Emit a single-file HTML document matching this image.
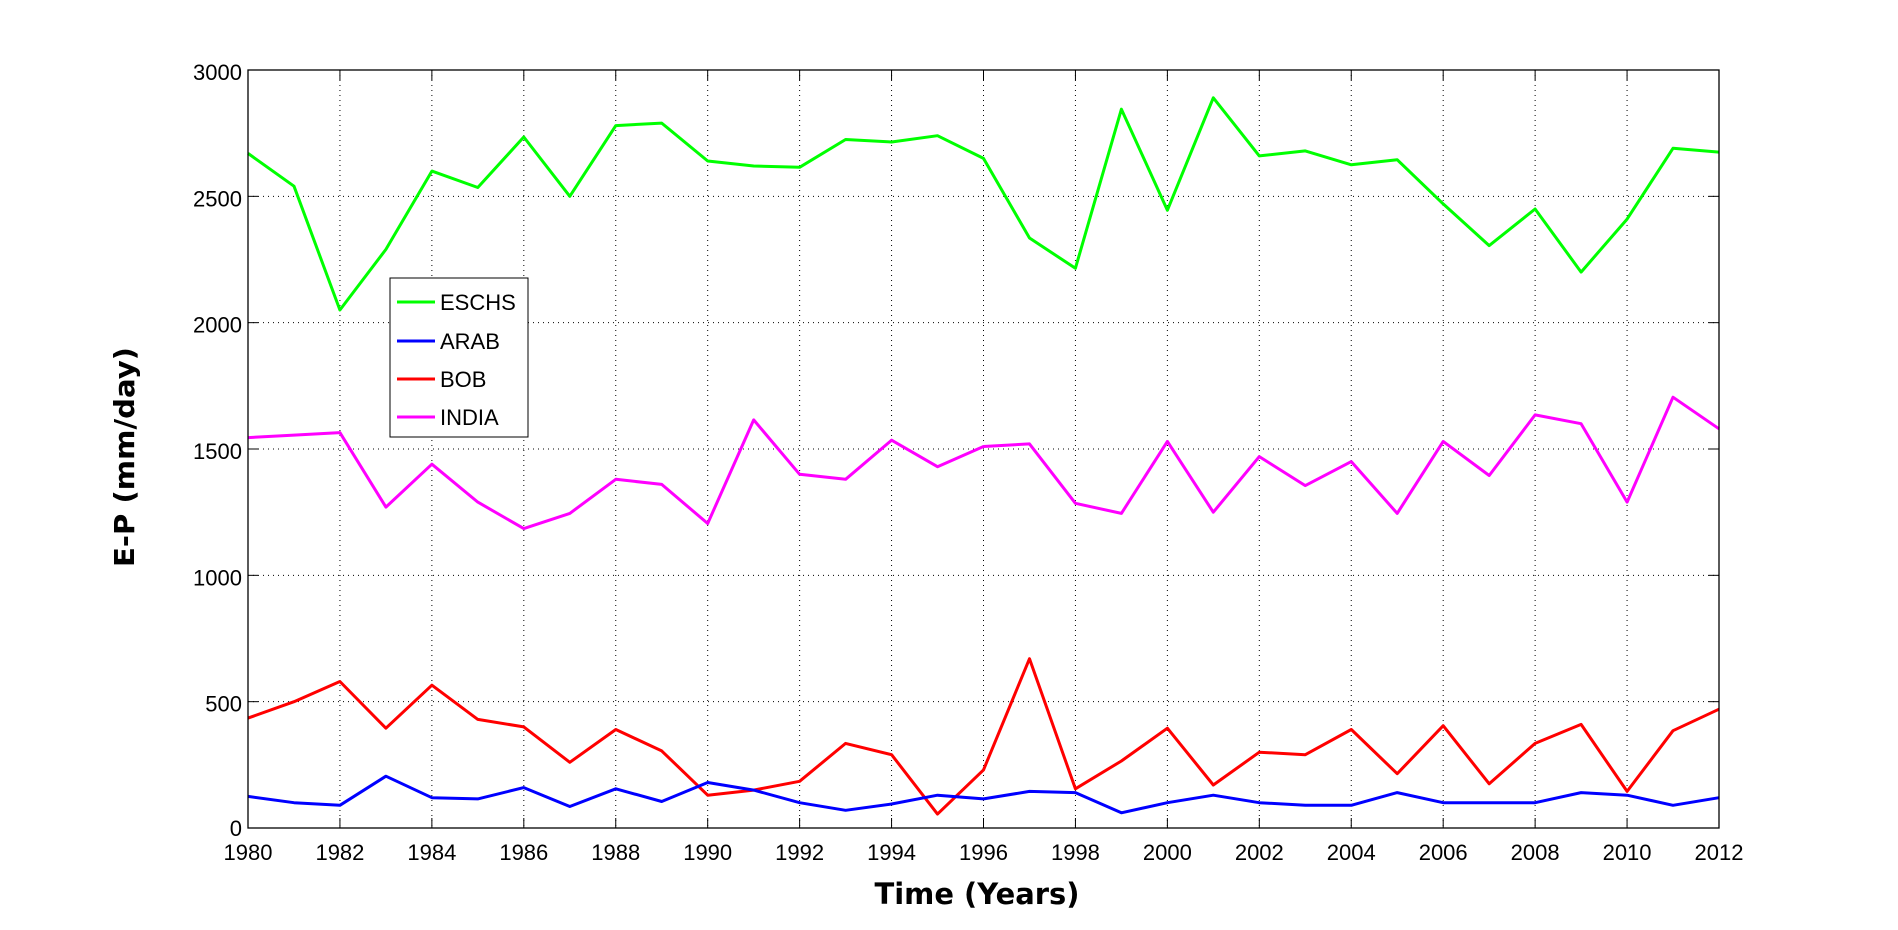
<!DOCTYPE html>
<html><head><style>body{margin:0;background:#fff}svg{display:block}</style></head><body>
<svg id="s" width="1898" height="930" xmlns="http://www.w3.org/2000/svg" font-family="Liberation Sans, sans-serif">
<rect width="1898" height="930" fill="#fff"/>
<g id="grid" stroke="#000" stroke-width="1" stroke-dasharray="1,4"></g>
<g id="ticks" stroke="#000" stroke-width="1"></g>
<g id="lbl" font-size="22" fill="#000"></g>
<g id="lines" fill="none" stroke-width="3" stroke-linejoin="round"></g>
<rect x="248" y="70" width="1471" height="758" fill="none" stroke="#000" stroke-width="1.3"/>
<g>
<rect x="390" y="278" width="138" height="159" fill="#fff" stroke="#000" stroke-width="1"/>
<line x1="397" y1="302" x2="435" y2="302" stroke="#0f0" stroke-width="3"/>
<line x1="397" y1="341" x2="435" y2="341" stroke="#00f" stroke-width="3"/>
<line x1="397" y1="379" x2="435" y2="379" stroke="#f00" stroke-width="3"/>
<line x1="397" y1="417" x2="435" y2="417" stroke="#f0f" stroke-width="3"/>
<g font-size="22"><text x="440" y="310">ESCHS</text><text x="440" y="349">ARAB</text><text x="440" y="387">BOB</text><text x="440" y="425">INDIA</text></g>
</g>
<text x="977" y="904" font-size="29" font-family="DejaVu Sans, sans-serif" font-weight="bold" text-anchor="middle" textLength="205" lengthAdjust="spacingAndGlyphs">Time (Years)</text>
<text transform="translate(134,457) rotate(-90)" font-size="28" font-family="DejaVu Sans, sans-serif" font-weight="bold" text-anchor="middle" textLength="220" lengthAdjust="spacingAndGlyphs">E-P (mm/day)</text>
</svg>
<script>
var L=248,R=1719,T=70,B=828;
function X(y){return L+(y-1980)*(R-L)/32}
function Y(v){return B-v*(B-T)/3000}
var g=document.getElementById('grid'),t=document.getElementById('ticks'),lb=document.getElementById('lbl'),ns='http://www.w3.org/2000/svg';
function el(p,n,a,txt){var e=document.createElementNS(ns,n);for(var k in a)e.setAttribute(k,a[k]);if(txt)e.textContent=txt;p.appendChild(e);}
for(var y=1980;y<=2012;y+=2){var x=X(y);if(y>1980&&y<2012)el(g,'line',{x1:x,y1:T,x2:x,y2:B});el(t,'line',{x1:x,y1:B,x2:x,y2:B-10});el(t,'line',{x1:x,y1:T,x2:x,y2:T+10});el(lb,'text',{x:x,y:860,'text-anchor':'middle'},''+y);}
for(var v=0;v<=3000;v+=500){var yy=Y(v);if(v>0&&v<3000)el(g,'line',{x1:L,y1:yy,x2:R,y2:yy});el(t,'line',{x1:L,y1:yy,x2:L+10,y2:yy});el(t,'line',{x1:R,y1:yy,x2:R-10,y2:yy});el(lb,'text',{x:242,y:yy+(v==0?8:10),'text-anchor':'end'},''+v);}
var D={'#0f0':[2670,2540,2050,2290,2600,2535,2735,2500,2780,2790,2640,2620,2615,2725,2715,2740,2650,2335,2215,2845,2445,2890,2660,2680,2625,2645,2470,2305,2450,2200,2410,2690,2675],
'#f0f':[1545,1555,1565,1270,1440,1290,1185,1245,1380,1360,1205,1615,1400,1380,1535,1430,1510,1520,1285,1245,1530,1250,1470,1355,1450,1245,1530,1395,1635,1600,1290,1705,1580],
'#f00':[435,500,580,395,565,430,400,260,390,305,130,150,185,335,290,55,230,670,155,265,395,170,300,290,390,215,405,175,335,410,145,385,470],
'#00f':[125,100,90,205,120,115,160,85,155,105,180,150,100,70,95,130,115,145,140,60,100,130,100,90,90,140,100,100,100,140,130,90,120]};
var ln=document.getElementById('lines');
for(var c in D){var p=D[c].map(function(v,i){return X(1980+i).toFixed(1)+','+Y(v).toFixed(1)}).join(' ');el(ln,'polyline',{points:p,stroke:c});}
</script>
</body></html>
